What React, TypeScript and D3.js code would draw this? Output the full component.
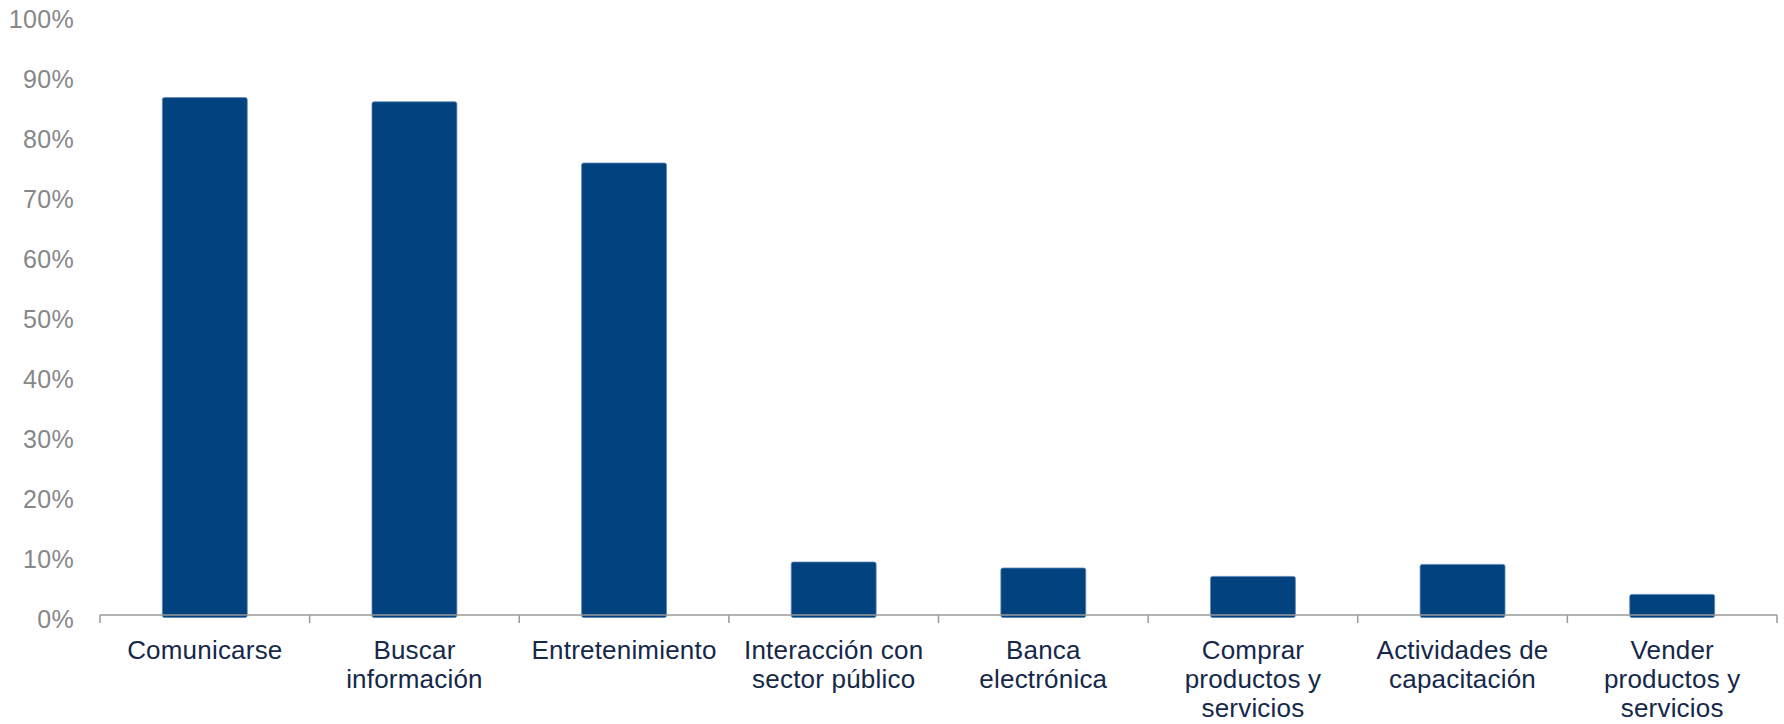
import React from "react";
import * as d3 from "d3";

const categories: string[][] = [
  ["Comunicarse"],
  ["Buscar", "información"],
  ["Entretenimiento"],
  ["Interacción con", "sector público"],
  ["Banca", "electrónica"],
  ["Comprar", "productos y", "servicios"],
  ["Actividades de", "capacitación"],
  ["Vender", "productos y", "servicios"],
];
const values: number[] = [0.864, 0.857, 0.755, 0.09, 0.08, 0.066, 0.086, 0.036];
const yTicks: number[] = [0, 0.1, 0.2, 0.3, 0.4, 0.5, 0.6, 0.7, 0.8, 0.9, 1.0];

const W = 1784;
const H = 724;

export default function App() {
  const keys = categories.map((c) => c.join(" "));
  const x = d3.scaleBand<string>().domain(keys).range([100, 1777]).paddingInner(0.595).paddingOuter(0.2975);
  const y = d3.scaleLinear().domain([0, 1]).range([616, 16]);
  const fmt = d3.format(".0%");
  const step = x.step();
  return (
    <div style={{ position: "absolute", left: 0, top: 0 }}>
      <svg width={W} height={H} style={{ display: "block", background: "#fff" }}>
        {values.map((v, i) => (
          <rect
            key={i}
            x={x(keys[i])!}
            y={y(v)}
            width={x.bandwidth()}
            height={y(0) - y(v) + 1.5}
            rx={2}
            fill="#01427f"
            stroke="#5a87b8"
            strokeWidth={0.8}
          />
        ))}
        <line x1={100} x2={1777} y1={615} y2={615} stroke="#9a9a9a" strokeWidth={1.5} />
        {d3.range(categories.length + 1).map((i) => (
          <line key={i} x1={100 + i * step} x2={100 + i * step} y1={615} y2={623} stroke="#9a9a9a" strokeWidth={1.5} />
        ))}
        {yTicks.map((t) => (
          <text
            key={t}
            x={74}
            y={y(t) + 3}
            textAnchor="end"
            dominantBaseline="central"
            fontFamily="Liberation Sans, Arial, sans-serif"
            fontSize={25}
            letterSpacing={0.3}
            fill="#878787"
          >
            {fmt(t)}
          </text>
        ))}
        {categories.map((lines, i) => (
          <text
            key={i}
            textAnchor="middle"
            fontFamily="Liberation Sans, Arial, sans-serif"
            fontSize={26}
            letterSpacing={0.2}
            fill="#15284a"
          >
            {lines.map((l, j) => (
              <tspan key={j} x={x(keys[i])! + x.bandwidth() / 2} y={659 + j * 29}>
                {l}
              </tspan>
            ))}
          </text>
        ))}
      </svg>
    </div>
  );
}
